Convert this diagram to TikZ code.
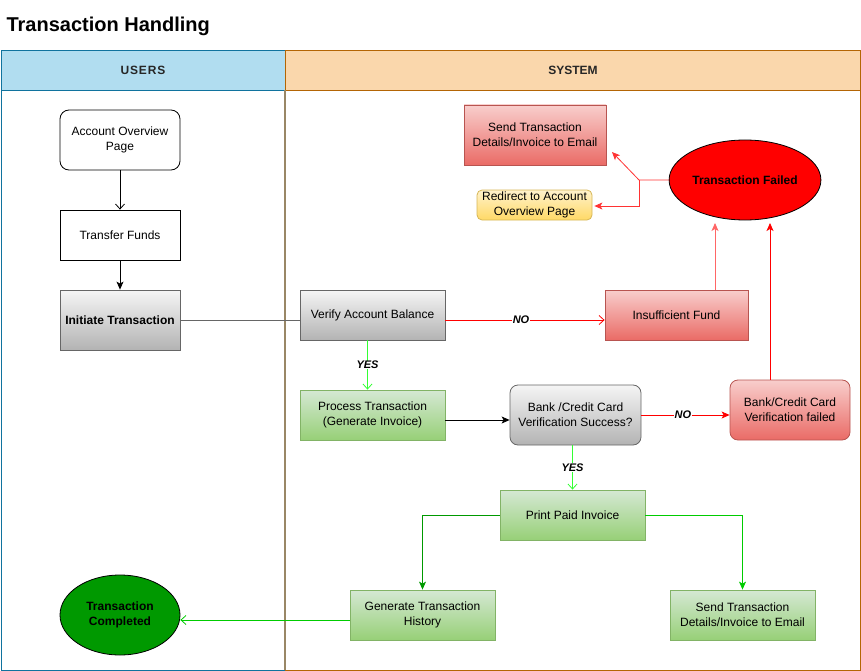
\documentclass[tikz,border=0pt]{standalone}
\usepackage{fontspec}
\setmainfont{Liberation Sans}
\usetikzlibrary{arrows.meta,shapes.geometric}
\definecolor{usersfill}{HTML}{B1DDF0}
\definecolor{usersdraw}{HTML}{10739E}
\definecolor{sysfill}{HTML}{FAD7AC}
\definecolor{sysdraw}{HTML}{B46504}
\definecolor{divider}{HTML}{998766}
\definecolor{graytop}{HTML}{F5F5F5}
\definecolor{graybot}{HTML}{B3B3B3}
\definecolor{graydraw}{HTML}{666666}
\definecolor{redtop}{HTML}{F8CECC}
\definecolor{redbot}{HTML}{EA6B66}
\definecolor{reddraw}{HTML}{B85450}
\definecolor{greentop}{HTML}{D5E8D4}
\definecolor{greenbot}{HTML}{97D077}
\definecolor{greendraw}{HTML}{82B366}
\definecolor{yeltop}{HTML}{FFF2CC}
\definecolor{yelbot}{HTML}{FFD966}
\definecolor{yeldraw}{HTML}{D6B656}
\definecolor{darkgreen}{HTML}{009900}
\definecolor{midgreen}{HTML}{00CC00}
\definecolor{brightgreen}{HTML}{33FF33}
\definecolor{lightred}{HTML}{FF6666}
\definecolor{midred}{HTML}{FF3333}
\begin{document}
\begin{tikzpicture}[x=1pt,y=-1pt,
  box/.style={draw, align=center, font=\fontsize{12}{15}\selectfont, inner sep=1pt, line width=0.8pt, text=black},
  plainbox/.style={box, fill=white, draw=black},
  graybox/.style={box, top color=graytop, bottom color=graybot, draw=graydraw},
  redbox/.style={box, top color=redtop, bottom color=redbot, draw=reddraw},
  greenbox/.style={box, top color=greentop, bottom color=greenbot, draw=greendraw},
  yelbox/.style={box, top color=yeltop, bottom color=yelbot, draw=yeldraw},
  oval/.style={box, ellipse, draw=black, font=\bfseries\fontsize{12}{15}\selectfont},
  lanehead/.style={font=\bfseries\fontsize{12}{14}\selectfont, text=black!85},
  edgelabel/.style={font=\bfseries\itshape\fontsize{11}{13}\selectfont, fill=white, text=black, inner sep=0.5pt},
  openarrow/.style={-{Straight Barb[length=5pt,width=9pt]}, line width=0.8pt},
  fullarrow/.style={-{Stealth[length=8pt,width=7pt,inset=2pt]}, line width=0.8pt}
]
\useasboundingbox (0,0) rectangle (861,671);

% title
\node[anchor=west, font=\bfseries\fontsize{20}{24}\selectfont] (title) at (3,26) {Transaction Handling};

% lanes
\draw[usersdraw, line width=0.9pt] (1,50) rectangle (285,670);
\draw[usersdraw, fill=usersfill, line width=0.9pt] (1,50) rectangle (285,90);
\draw[sysdraw, line width=0.9pt] (285,50) rectangle (860,670);
\draw[sysdraw, fill=sysfill, line width=0.9pt] (285,50) rectangle (860,90);
\draw[divider, line width=1.2pt] (285,90) -- (285,670);
\node[lanehead] (users) at (143,70) {U\kern0.8pt S\kern0.8pt E\kern0.8pt R\kern0.8pt S};
\node[lanehead] (system) at (573,70) {SYSTEM};

% nodes
\node[plainbox, rounded corners=9pt, minimum width=120pt, minimum height=60pt] (acc) at (120,140) {Account Overview\\Page};
\node[plainbox, minimum width=120pt, minimum height=50pt] (tf) at (120,235) {Transfer Funds};
\node[graybox, minimum width=120pt, minimum height=60pt, font=\bfseries\fontsize{12}{15}\selectfont] (init) at (120,320) {Initiate Transaction};
\node[graybox, minimum width=145pt, minimum height=50pt] (ver) at (372.5,315) {Verify Account Balance};
\node[redbox, minimum width=143pt, minimum height=50pt] (ins) at (676.5,315) {Insufficient Fund};
\node[oval, fill=red, minimum width=120pt, minimum height=80pt] (fail) at (745,180) {Transaction Failed};
\node[redbox, minimum width=142pt, minimum height=60pt] (sendr) at (535,135) {Send Transaction\\Details/Invoice to Email};
\node[yelbox, rounded corners=5pt, minimum width=115pt, minimum height=30pt] (redir) at (534.5,205) {Redirect to Account\\Overview Page};
\node[greenbox, minimum width=145pt, minimum height=50pt] (proc) at (372.5,415) {Process Transaction\\(Generate Invoice)};
\node[graybox, rounded corners=8pt, minimum width=131pt, minimum height=60pt] (bank) at (575.5,415) {Bank /Credit Card\\Verification Success?};
\node[redbox, rounded corners=8pt, minimum width=120pt, minimum height=60pt] (bfail) at (790,410) {Bank/Credit Card\\Verification failed};
\node[greenbox, minimum width=145pt, minimum height=50pt] (print) at (572.5,515) {Print Paid Invoice};
\node[greenbox, minimum width=145pt, minimum height=50pt] (gen) at (422.5,615) {Generate Transaction\\History};
\node[greenbox, minimum width=145pt, minimum height=50pt] (sendg) at (742.5,615) {Send Transaction\\Details/Invoice to Email};
\node[oval, fill=darkgreen, minimum width=120pt, minimum height=80pt] (comp) at (120,615) {Transaction\\Completed};

% helper coordinates
\coordinate (f1) at (715,223);
\coordinate (f2) at (770,223);
\coordinate (j) at (639,180);
\coordinate (s1) at (612,152);

% connectors
\draw[openarrow, black] (acc) -- (tf);
\draw[fullarrow, black] (tf) -- (init);
\draw[graydraw, line width=1pt] (init.east) -- (init.east -| ver.west);
\draw[openarrow, red] ([yshift=-5pt]ver.east) -- node[edgelabel, pos=0.5, xshift=-4pt] (no1) {NO} ([yshift=-5pt]ins.west);
\draw[openarrow, brightgreen] ([xshift=-5pt]ver.south) -- node[edgelabel, pos=0.5] (yes1) {YES} ([xshift=-5pt]proc.north);
\draw[fullarrow, black] ([yshift=-5pt]proc.east) -- ([yshift=-5pt]bank.west);
\draw[fullarrow, red] (bank.east) -- node[edgelabel, pos=0.47] (no2) {NO} (bank.east -| bfail.west);
\draw[openarrow, brightgreen] ([xshift=-3pt]bank.south) -- node[edgelabel, pos=0.5] (yes2) {YES} ([xshift=-3pt]bank.south |- print.north);
\draw[fullarrow, darkgreen] (print.west) -| (gen.north);
\draw[fullarrow, midgreen] (print.east) -| (sendg.north);
\draw[openarrow, midgreen] ([yshift=-5pt]gen.west) -- ([yshift=-5pt]gen.west -| comp.east);
\draw[fullarrow, lightred] (f1 |- ins.north) -- (f1);
\draw[fullarrow, red] (f2 |- bfail.north) -- (f2);
\draw[fullarrow, midred] (fail.west) -- (j) -- (s1);
\draw[fullarrow, midred] (j) |- ([xshift=2pt,yshift=-1pt]redir.east);
\end{tikzpicture}
\end{document}
